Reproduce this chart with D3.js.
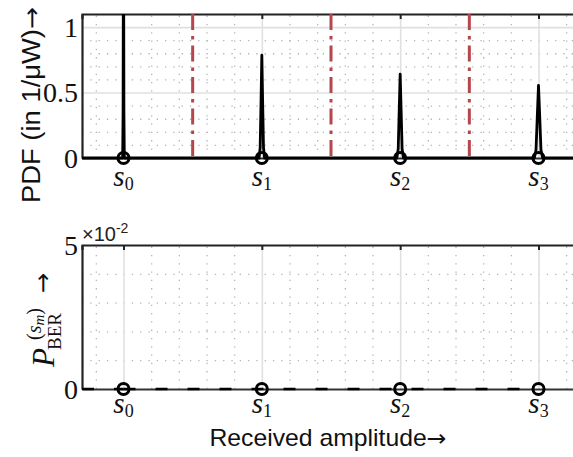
<!DOCTYPE html>
<html>
<head>
<meta charset="utf-8">
<script src="https://cdn.jsdelivr.net/npm/d3@7"></script>
<style>
  body { margin: 0; background: #fff; }
  svg { display: block; }
</style>
</head>
<body>
<svg id="chart" width="573" height="457"></svg>
<script>
// Symbol levels s0..s3 on the received-amplitude axis
const symbolPos = [0, 1, 2, 3];
const symbolIdx = ["0", "1", "2", "3"];
// Decision thresholds between neighbouring symbols
const thresholds = [0.5, 1.5, 2.5];

// Upper panel: PDF (1/µW)
const pdfTicks = [0, 0.5, 1];
const pdfTickLabels = ["0", "0.5", "1"];
// Sampled PDF curve: flat at zero with a narrow peak at each symbol
const pdfX = [-0.3,
  -0.006, -0.003, -0.0015, 0, 0.0015, 0.003, 0.006,
  0.98, 0.988, 0.994, 1.0, 1.006, 1.012, 1.02,
  1.976, 1.986, 1.993, 2.0, 2.007, 2.014, 2.024,
  2.97, 2.982, 2.991, 3.0, 3.009, 3.018, 3.03,
  3.3];
const pdfY = [0,
  0, 0.35, 1.2, 1.95, 1.2, 0.35, 0,
  0, 0.08, 0.42, 0.785, 0.42, 0.08, 0,
  0, 0.07, 0.36, 0.64, 0.36, 0.07, 0,
  0, 0.06, 0.31, 0.555, 0.31, 0.06, 0,
  0];

// Lower panel: per-symbol bit error rate (x 10^-2)
const berTicks = [0, 5];
const berTickLabels = ["0", "5"];
const berValues = [0, 0, 0, 0];

const svg = d3.select("#chart");
const left = 82, right = 580;
const x = d3.scaleLinear().domain([-0.3, 3.3]).range([left, right]);
const yPdf = d3.scaleLinear().domain([0, 1.1]).range([158, 14]);
const yBer = d3.scaleLinear().domain([0, 5]).range([389, 245]);

const xMajor = symbolPos;
const xMinor = d3.range(-1, 17).filter(k => k % 5 !== 0).map(k => k / 5);

const serif = "'Liberation Serif', 'DejaVu Serif', serif";
const sans = "'Liberation Sans', 'DejaVu Sans', sans-serif";
const arrowFont = "'DejaVu Sans', sans-serif";

function panel(y, yMajorInner, yMinor, id) {
  const top = y.range()[1], bottom = y.range()[0];
  const h = bottom - top;
  const g = svg.append("g");

  // minor dotted grid
  g.append("g").attr("transform", `translate(0,${bottom})`)
    .call(d3.axisBottom(x).tickValues(xMinor).tickSize(-h).tickFormat(""))
    .call(a => a.select(".domain").remove())
    .selectAll("line").attr("stroke", "#b4b4b4").attr("stroke-width", 1.3)
    .attr("stroke-dasharray", "1.3,7");
  g.append("g").attr("transform", `translate(${left},0)`)
    .call(d3.axisLeft(y).tickValues(yMinor).tickSize(-(right - left)).tickFormat(""))
    .call(a => a.select(".domain").remove())
    .selectAll("line").attr("stroke", "#b4b4b4").attr("stroke-width", 1.3)
    .attr("stroke-dasharray", "1.3,7");

  // major solid grid
  g.append("g").attr("transform", `translate(0,${bottom})`)
    .call(d3.axisBottom(x).tickValues(xMajor).tickSize(-h).tickFormat(""))
    .call(a => a.select(".domain").remove())
    .selectAll("line").attr("stroke", "#e0e0e0").attr("stroke-width", 1.6);
  if (yMajorInner.length) {
    g.append("g").attr("transform", `translate(${left},0)`)
      .call(d3.axisLeft(y).tickValues(yMajorInner).tickSize(-(right - left)).tickFormat(""))
      .call(a => a.select(".domain").remove())
      .selectAll("line").attr("stroke", "#e0e0e0").attr("stroke-width", 1.6);
  }

  // top border with inward ticks
  g.append("g").attr("transform", `translate(0,${top})`)
    .call(d3.axisTop(x).tickValues(xMajor).tickSize(-5).tickFormat(""))
    .call(a => a.select(".domain").attr("stroke", "#222").attr("stroke-width", 2.2))
    .selectAll("line").attr("stroke", "#222").attr("stroke-width", 2);
  // left border
  g.append("g").attr("transform", `translate(${left},0)`)
    .call(d3.axisLeft(y).tickValues([]).tickSizeOuter(0))
    .select(".domain").attr("stroke", "#222").attr("stroke-width", 2.2);
  // bottom border
  g.append("g").attr("transform", `translate(0,${bottom})`)
    .call(d3.axisBottom(x).tickValues([]).tickSizeOuter(0))
    .select(".domain").attr("stroke", "#333").attr("stroke-width", 2);

  g.append("clipPath").attr("id", id)
    .append("rect").attr("x", left).attr("y", top).attr("width", right - left).attr("height", h + 4);

  return g;
}

function yTickLabels(y, ticks, labels) {
  svg.append("g").selectAll("text").data(ticks).join("text")
    .attr("x", 78).attr("y", d => y(d)).attr("dy", "0.34em")
    .attr("text-anchor", "end")
    .attr("font-family", serif).attr("font-size", 28).attr("fill", "#111")
    .text((d, i) => labels[i]);
}

function xTickLabels(baseline) {
  const t = svg.append("g").selectAll("text").data(symbolPos).join("text")
    .attr("x", d => x(d)).attr("y", baseline)
    .attr("text-anchor", "middle")
    .attr("font-family", serif).attr("fill", "#111");
  t.append("tspan").attr("font-style", "italic").attr("font-size", 29).text("s");
  t.append("tspan").attr("font-size", 18).attr("dy", 4).text((d, i) => symbolIdx[i]);
}

// ---------- upper panel ----------
const g1 = panel(yPdf, [0.5, 1], d3.range(1, 11).filter(k => k !== 5 && k !== 10).map(k => k / 10), "clipPdf");

g1.append("g").selectAll("line").data(thresholds).join("line")
  .attr("x1", d => x(d)).attr("x2", d => x(d))
  .attr("y1", yPdf(1.1)).attr("y2", yPdf(0))
  .attr("stroke", "#b5464b").attr("stroke-width", 3)
  .attr("stroke-dasharray", "16,6,3.5,6");

const pdfPts = pdfX.map((v, i) => [v, pdfY[i]]);
g1.append("path").datum(pdfPts)
  .attr("clip-path", "url(#clipPdf)")
  .attr("d", d3.line().x(d => x(d[0])).y(d => yPdf(d[1])))
  .attr("fill", "none").attr("stroke", "#000").attr("stroke-width", 2.8)
  .attr("stroke-linejoin", "round");

g1.append("g").selectAll("circle").data(symbolPos).join("circle")
  .attr("cx", d => x(d)).attr("cy", yPdf(0)).attr("r", 5.5)
  .attr("fill", "none").attr("stroke", "#000").attr("stroke-width", 3);

yTickLabels(yPdf, pdfTicks, pdfTickLabels);
xTickLabels(186);

const ylab = svg.append("text")
  .attr("transform", `translate(40,${(7 + 203) / 2}) rotate(-90)`)
  .attr("text-anchor", "middle")
  .attr("font-family", sans).attr("font-size", 25).attr("fill", "#111")
  .attr("textLength", 196).attr("lengthAdjust", "spacingAndGlyphs");
ylab.append("tspan").text("PDF (in 1/\u03BCW)");
ylab.append("tspan").attr("font-family", arrowFont).attr("font-size", 24).text("\u2192");

// ---------- lower panel ----------
const g2 = panel(yBer, [], [1, 2, 3, 4], "clipBer");

g2.append("path").datum(symbolPos.map((p, i) => [p, berValues[i]]))
  .attr("clip-path", "url(#clipBer)")
  .attr("d", d3.line().x(d => x(d[0])).y(d => yBer(d[1])))
  .attr("fill", "none").attr("stroke", "#000").attr("stroke-width", 2.6)
  .attr("stroke-dasharray", "12,20");
// extend the dashed zero line over the full axis
g2.append("line")
  .attr("x1", x(-0.3)).attr("x2", x(0)).attr("y1", yBer(0)).attr("y2", yBer(0))
  .attr("stroke", "#000").attr("stroke-width", 2.6).attr("stroke-dasharray", "12,20");

g2.append("g").selectAll("circle").data(symbolPos).join("circle")
  .attr("cx", d => x(d)).attr("cy", (d, i) => yBer(berValues[i])).attr("r", 5.5)
  .attr("fill", "none").attr("stroke", "#000").attr("stroke-width", 3);

yTickLabels(yBer, berTicks, berTickLabels);
xTickLabels(413);

const expo = svg.append("text").attr("x", 82).attr("y", 241)
  .attr("font-family", sans).attr("fill", "#222").attr("font-size", 20);
expo.append("tspan").text("\u00D710");
expo.append("tspan").attr("font-size", 14).attr("dy", -8).text("-2");

// P_BER^(s_m) label, rotated
const yl = svg.append("g").attr("transform", "translate(54,367) rotate(-90)")
  .attr("font-family", serif).attr("fill", "#111");
yl.append("text").attr("x", 0).attr("y", 0).attr("font-style", "italic").attr("font-size", 31).text("P");
yl.append("text").attr("x", 17).attr("y", 7).attr("font-size", 19).text("BER");
const sup = yl.append("text").attr("x", 27).attr("y", -13).attr("font-size", 20);
sup.append("tspan").text("(");
sup.append("tspan").attr("font-style", "italic").text("s");
sup.append("tspan").attr("font-style", "italic").attr("font-size", 15).attr("dy", 3).text("m");
sup.append("tspan").attr("dy", -3).text(")");
yl.append("text").attr("x", 74).attr("y", -3).attr("font-family", arrowFont).attr("font-size", 24).text("\u2192");

const xlab = svg.append("text")
  .attr("x", 328).attr("y", 446).attr("text-anchor", "middle")
  .attr("font-family", sans).attr("font-size", 24).attr("fill", "#111")
  .attr("textLength", 237).attr("lengthAdjust", "spacingAndGlyphs");
xlab.append("tspan").text("Received amplitude");
xlab.append("tspan").attr("font-family", arrowFont).attr("font-size", 23).text("\u2192");
</script>
</body>
</html>
